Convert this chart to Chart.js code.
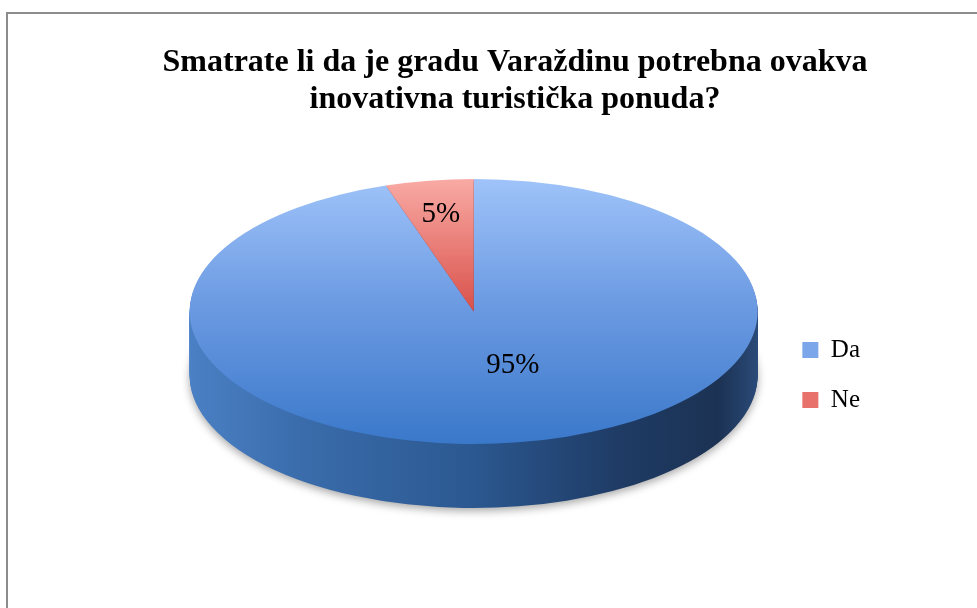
<!DOCTYPE html>
<html>
<head>
<meta charset="utf-8">
<script src="https://cdn.jsdelivr.net/npm/chart.js@4/dist/chart.umd.min.js"></script>
<style>
  html, body { margin: 0; padding: 0; background: #fff; }
  canvas { display: block; }
</style>
</head>
<body>
<canvas id="chart" width="977" height="608"></canvas>
<script>
const categories = ['Da', 'Ne'];
const shares = [95, 5];
const titleLines = ['Smatrate li da je gradu Varaždinu potrebna ovakva', 'inovativna turistička ponuda?'];

// flat colours for the legend, gradients for the fake 3d pie
const legendColours = ['#7ba7ea', '#e8716c'];
const faceStops = [
  [[0, '#9fc3f9'], [0.45, '#6e9ce3'], [1, '#3a78ca']],
  [[0, '#f9aaa4'], [0.5, '#d9514b'], [1, '#b83330']]
];
const sideStops = [
  [[0, '#4a80c4'], [0.2, '#3a6cab'], [0.5, '#2b5890'], [0.75, '#1f3c66'], [0.93, '#1b3253'], [1, '#2a4a78']],
  [[0, '#a83a36'], [1, '#6e2020']]
];

const tilt = 0.4665;   // vertical squash of the pie
const depth = 64;      // thickness of the side
const lift = -63.5;    // pie sits higher than the middle of the chart area
const nudge = 5;       // and a little right of it

function gradient(ctx, x0, y0, x1, y1, stops) {
  const g = ctx.createLinearGradient(x0, y0, x1, y1);
  stops.forEach(([o, c]) => g.addColorStop(o, c));
  return g;
}

const pie3d = {
  id: 'pie3d',
  beforeDraw(chart) {
    const {ctx, width, height} = chart;
    ctx.save();
    ctx.fillStyle = '#fff';
    ctx.fillRect(0, 0, width, height);
    ctx.strokeStyle = '#8c8c8c';
    ctx.lineWidth = 2;
    ctx.strokeRect(7, 13, width + 20, height + 20);
    ctx.restore();
  },
  beforeDatasetsDraw(chart) {
    const ctx = chart.ctx;
    const arcs = chart.getDatasetMeta(0).data;
    const {x, y, outerRadius: r} = arcs[0];

    const paint = (dy, fills, shadow) => {
      ctx.save();
      ctx.translate(x + nudge, y + lift + dy);
      ctx.scale(1, tilt);
      ctx.translate(-x, -y);
      if (shadow) {
        ctx.shadowColor = 'rgba(0,0,0,0.35)';
        ctx.shadowBlur = 9;
        ctx.shadowOffsetY = 3;
      }
      arcs.forEach((arc, i) => {
        const saved = arc.options;
        arc.options = Object.assign({}, saved, {backgroundColor: fills[i]});
        arc.draw(ctx);
        arc.options = saved;
      });
      ctx.restore();
    };

    const side = sideStops.map(s => gradient(ctx, x - r, 0, x + r, 0, s));
    const face = faceStops.map(s => gradient(ctx, 0, y - r, 0, y + r, s));
    paint(depth, side, true);
    for (let d = depth - 1; d > 0; d--) paint(d, side, false);
    paint(0, face, false);
    return false;
  },
  afterDraw(chart) {
    const ctx = chart.ctx;
    const arcs = chart.getDatasetMeta(0).data;
    ctx.save();
    ctx.font = '29px "Liberation Serif"';
    ctx.fillStyle = '#000';
    ctx.textAlign = 'center';
    ctx.textBaseline = 'middle';
    arcs.forEach((arc, i) => {
      // labels sit a bit toward the viewer, like the perspective view does
      const mid = (arc.startAngle + arc.endAngle) / 2 - (shares[i] < 10 ? 0 : 0.17);
      const f = shares[i] < 10 ? 0.74 : 0.43;
      const lx = arc.x + nudge + Math.cos(mid) * arc.outerRadius * f;
      const ly = arc.y + lift + Math.sin(mid) * arc.outerRadius * f * tilt;
      ctx.fillText(shares[i] + '%', lx, ly);
    });
    ctx.restore();
  }
};

new Chart(document.getElementById('chart'), {
  type: 'pie',
  data: {
    labels: categories,
    datasets: [{
      data: shares,
      backgroundColor: legendColours,
      borderWidth: 0,
      radius: 284
    }]
  },
  options: {
    responsive: false,
    animation: false,
    events: [],
    layout: {
      padding: {left: 160, right: 107, top: 0, bottom: 0}
    },
    plugins: {
      title: {
        display: true,
        text: titleLines,
        color: '#000',
        font: {family: 'Liberation Serif', size: 32, weight: 'bold', lineHeight: 1.156},
        padding: {top: 44, bottom: 24}
      },
      legend: {
        position: 'right',
        fullSize: false,
        labels: {
          color: '#000',
          font: {family: 'Liberation Serif', size: 25},
          boxWidth: 16,
          boxHeight: 16,
          padding: 25
        }
      },
      tooltip: {enabled: false}
    }
  },
  plugins: [pie3d]
});
</script>
</body>
</html>
